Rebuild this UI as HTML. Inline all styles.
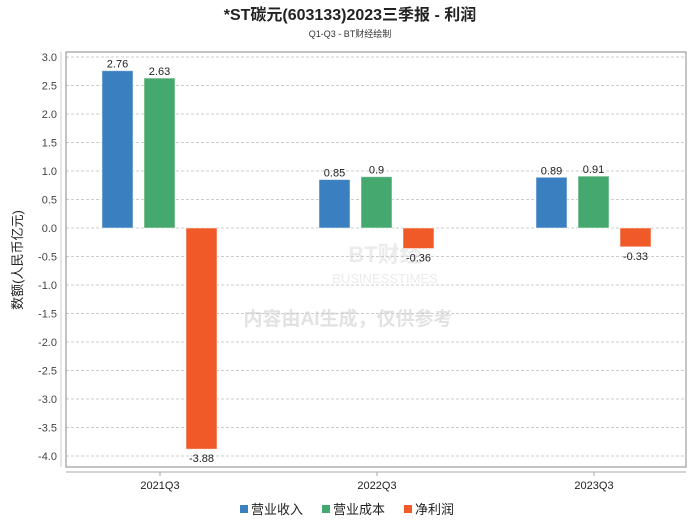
<!DOCTYPE html>
<html><head><meta charset="utf-8"><style>
body{margin:0;background:#fff;font-family:"Liberation Sans","Noto Sans CJK SC",sans-serif;}
svg text{font-family:"Liberation Sans","Noto Sans CJK SC",sans-serif;}
</style></head><body>
<svg id="c" width="700" height="524" xmlns="http://www.w3.org/2000/svg">
<text x="350" y="20" text-anchor="middle" font-size="16" font-weight="bold" fill="#222">*ST碳元(603133)2023三季报 - 利润</text>
<text x="350" y="37" text-anchor="middle" font-size="9" fill="#333">Q1-Q3 - BT财经绘制</text>
<text x="348" y="325" text-anchor="middle" font-size="19" fill="#e2e2e2" font-weight="bold">内容由AI生成，仅供参考</text>
<text x="385" y="262" text-anchor="middle" font-size="22" fill="#ebebeb" font-weight="bold">BT财经</text>
<text x="385" y="283" text-anchor="middle" font-size="13" fill="#ebebeb">BUSINESSTIMES</text>
<g id="grid"></g><g id="bars"></g>
<rect x="66" y="52" width="620" height="415" fill="none" stroke="#888"/>
<line x1="66" y1="472" x2="686" y2="472" stroke="#aaa"/>
<line x1="61" y1="52" x2="61" y2="467" stroke="#ccc"/>
<text transform="translate(22,260) rotate(-90)" text-anchor="middle" font-size="13" fill="#222">数额(人民币亿元)</text>
<g>
<rect x="240" y="505" width="8" height="8" fill="#3a7fbf"/>
<text x="251" y="514" font-size="13" fill="#222">营业收入</text>
<rect x="322" y="505" width="8" height="8" fill="#45a86e"/>
<text x="333" y="514" font-size="13" fill="#222">营业成本</text>
<rect x="404" y="505" width="8" height="8" fill="#f05a28"/>
<text x="415" y="514" font-size="13" fill="#222">净利润</text>
</g>
</svg>
<script>
const categories=["2021Q3","2022Q3","2023Q3"];
const revenue=[2.76,0.85,0.89];
const cost=[2.63,0.9,0.91];
const profit=[-3.88,-0.36,-0.33];
const yTicks=[3.0,2.5,2.0,1.5,1.0,0.5,0.0,-0.5,-1.0,-1.5,-2.0,-2.5,-3.0,-3.5,-4.0];
const NS="http://www.w3.org/2000/svg";
const y=v=>228-v*57;
const xc=i=>160+i*217;
const grid=document.getElementById('grid'),bars=document.getElementById('bars'),svg=document.getElementById('c');
function el(t,a,p){const e=document.createElementNS(NS,t);for(const k in a)e.setAttribute(k,a[k]);p.appendChild(e);return e;}
yTicks.forEach(v=>{
 const l=el('line',{x1:66,x2:686,y1:y(v),y2:y(v),stroke:'#ccc','stroke-dasharray':'3,2'},grid);
 
 
 const t=el('text',{x:57,y:y(v)+4,'text-anchor':'end','font-size':11,fill:'#444'},grid);
 t.textContent=v.toFixed(1);
 
 
});
const series=[[revenue,'#3a7fbf','revenue',-58],[cost,'#45a86e','cost',-16],[profit,'#f05a28','profit',26]];
categories.forEach((c,i)=>{
 const tk=el('line',{x1:xc(i),x2:xc(i),y1:472,y2:476,stroke:'#aaa'},svg);
 
 
 const t=el('text',{x:xc(i),y:489,'text-anchor':'middle','font-size':11,fill:'#222'},svg);
 t.textContent=c;
 
 
 series.forEach(([arr,col,nm,off])=>{
  const v=arr[i],x=xc(i)+off,top=Math.min(y(v),y(0)),h=Math.abs(y(v)-y(0));
  const r=el('rect',{x:x,y:top,width:31,height:h,fill:col,stroke:'#fff','stroke-opacity':0.5},bars);
  
  
  const lb=el('text',{x:x+15.5,y:v>=0?y(v)-3:y(v)+13,'text-anchor':'middle','font-size':11,fill:'#222'},bars);
  lb.textContent=String(v);
  
  
 });
});
</script>
</body></html>
